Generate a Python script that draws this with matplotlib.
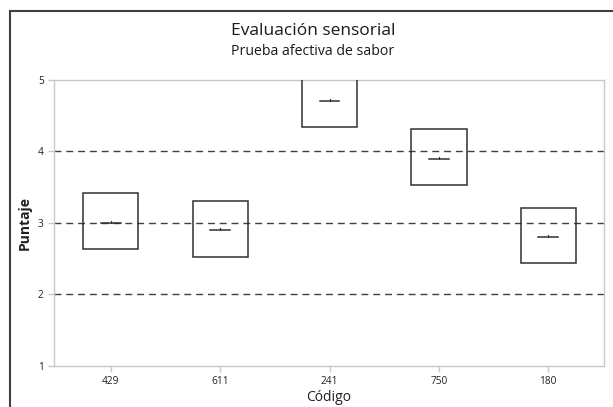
import matplotlib
matplotlib.use("Agg")
import matplotlib.pyplot as plt
from matplotlib.patches import Rectangle
from matplotlib.lines import Line2D

codes = ["429", "611", "241", "750", "180"]
means = [3.00, 2.90, 4.71, 3.90, 2.80]
upper = [3.41, 3.30, 5.09, 4.31, 3.21]
lower = [2.63, 2.52, 4.34, 3.53, 2.43]
yticks = [1, 2, 3, 4, 5]
grid_levels = [2, 3, 4]

plt.rcParams['font.family'] = ['Open Sans', 'DejaVu Sans']

fig = plt.figure(figsize=(6.13, 4.07), dpi=100)
W, H = 613, 407
ax = fig.add_axes([54 / W, 1 - 365.5 / H, (604 - 54) / W, (365.5 - 80) / H])

ax.set_xlim(-0.52, 4.51)
ax.set_ylim(1, 5)

for g in grid_levels:
    ax.axhline(g, color='#404040', lw=1.0, ls=(0, (5, 3.5)), zorder=1)

bw = 0.505
mw = 0.18
for i, (m, u, l) in enumerate(zip(means, upper, lower)):
    ax.add_patch(Rectangle((i - bw / 2, l), bw, u - l, fill=False,
                           edgecolor='#303030', lw=1.1, zorder=3, clip_on=True))
    ax.plot([i - mw / 2, i + mw / 2], [m, m], color='#303030', lw=1.1, zorder=4)
    ax.plot([i, i], [m, m + 0.025], color='#303030', lw=0.8, zorder=4)

ax.set_xticks(range(len(codes)))
ax.set_xticklabels(codes)
ax.set_yticks(yticks)
for s in ax.spines.values():
    s.set_color('#c8c8c8')
    s.set_linewidth(1.0)
ax.tick_params(axis='both', colors='#c8c8c8', labelcolor='#202020',
               labelsize=7.3, length=4, width=1)

ax.set_xlabel("Código", fontsize=10, color='#202020', labelpad=2)
ax.set_ylabel("Puntaje", fontsize=10, fontweight='bold', color='#202020')
ax.yaxis.set_label_coords(-(54 - 32) / (604 - 54), 0.5)

cx = 313 / W
fig.text(cx, 1 - 31 / H, "Evaluación sensorial",
         ha='center', va='center', fontsize=12.5, color='#1a1a1a')
fig.text(cx, 1 - 51.5 / H, "Prueba afectiva de sabor",
         ha='center', va='center', fontsize=10.2, color='#1a1a1a')

fig.add_artist(Line2D([9.5 / W, 9.5 / W], [0, 1 - 11 / H], color='#404040', lw=1.5))
fig.add_artist(Line2D([9.5 / W, 1], [1 - 11 / H, 1 - 11 / H], color='#404040', lw=1.5))

fig.savefig("out.png", dpi=100)
